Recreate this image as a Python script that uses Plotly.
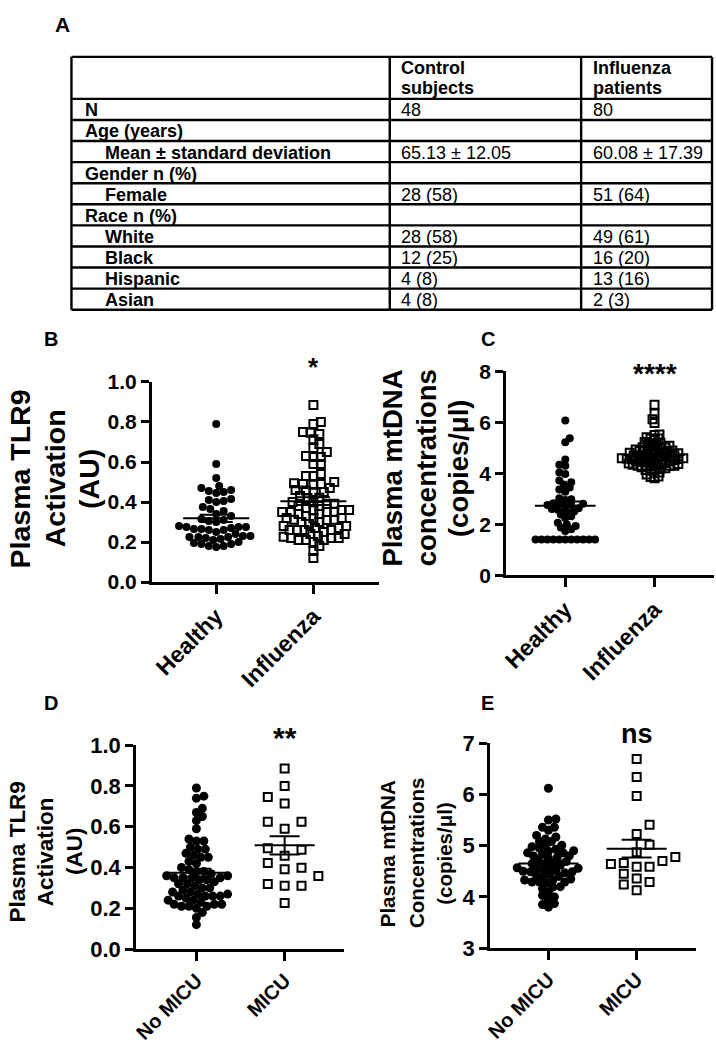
import numpy as np
import plotly.graph_objects as go

W, H = 716, 1050

# ---------------- Panel A table ----------------
table_header = ["", "Control<br>subjects", "Influenza<br>patients"]
row_labels = ["N", "Age (years)", "Mean ± standard deviation", "Gender n (%)", "Female",
              "Race n (%)", "White", "Black", "Hispanic", "Asian"]
row_level = [0, 0, 1, 0, 1, 0, 1, 1, 1, 1]
control_vals = ["48", "", "65.13 ± 12.05", "", "28 (58)", "", "28 (58)", "12 (25)", "4 (8)", "4 (8)"]
influenza_vals = ["80", "", "60.08 ± 17.39", "", "51 (64)", "", "49 (61)", "16 (20)", "13 (16)", "2 (3)"]

# ---------------- Data ----------------
cats_bc = ["Healthy", "Influenza"]
cats_de = ["No MICU", "MICU"]

tlr9_healthy = [0.79, 0.59, 0.52, 0.48, 0.47, 0.46, 0.45, 0.445, 0.455, 0.41, 0.40, 0.415, 0.405,
                0.375, 0.365, 0.34, 0.355, 0.33, 0.31, 0.30, 0.315, 0.305, 0.265, 0.275, 0.275,
                0.275, 0.265, 0.26, 0.225, 0.215, 0.23, 0.225, 0.225, 0.18, 0.195, 0.175, 0.18,
                0.28, 0.26, 0.25, 0.24, 0.23, 0.21, 0.20, 0.19, 0.19, 0.27, 0.22]

tlr9_no_micu = [0.79, 0.75, 0.74, 0.69, 0.67, 0.65, 0.63, 0.59,
                0.53, 0.54, 0.53, 0.49, 0.50, 0.49, 0.45, 0.46, 0.45,
                0.38, 0.40, 0.39, 0.38, 0.35, 0.35, 0.36, 0.35, 0.36, 0.35,
                0.31, 0.32, 0.30, 0.33, 0.32, 0.27, 0.28, 0.27, 0.28,
                0.26, 0.25, 0.24, 0.26, 0.26, 0.24, 0.21, 0.21, 0.22, 0.20, 0.21, 0.22,
                0.18, 0.155, 0.12,
                0.42, 0.43, 0.47, 0.30, 0.34, 0.26, 0.23, 0.22, 0.29, 0.34, 0.37]
tlr9_micu = [0.885, 0.80, 0.746, 0.714, 0.625, 0.625, 0.59, 0.494, 0.487, 0.458,
             0.422, 0.399, 0.391, 0.359, 0.319, 0.311, 0.311, 0.226]
tlr9_influenza = tlr9_no_micu + tlr9_micu

mtdna_healthy = [6.07, 5.37, 5.22, 4.54, 4.29, 4.33, 4.03, 3.97, 3.65, 3.72, 3.56, 3.44, 3.27,
                 3.36, 3.02, 2.95, 2.98, 2.76, 2.82, 2.69, 2.80, 2.76, 2.80, 2.50, 2.57, 2.47,
                 2.63, 2.31, 2.25, 2.38, 2.06, 1.99, 1.80, 1.87, 1.93, 1.74, 2.60,
                 1.40, 1.40, 1.40, 1.40, 1.40, 1.40, 1.40, 1.40, 1.40, 1.40, 1.40]
mtdna_no_micu = [6.12, 5.52, 5.50, 5.36, 5.30, 5.36, 5.17, 5.20, 5.13, 5.00, 5.08, 5.01, 5.08, 4.93,
                 4.80, 4.86, 4.83, 4.80, 4.86, 4.89, 4.64, 4.67, 4.71, 4.62, 4.65, 4.69,
                 4.49, 4.52, 4.56, 4.49, 4.51, 4.29, 4.33, 4.27, 4.33, 4.29, 4.29,
                 4.19, 4.16, 4.20, 4.00, 4.03, 3.85, 3.87, 3.80,
                 4.95, 4.90, 4.76, 4.78, 4.57, 4.47, 4.58, 4.55, 4.45, 4.42, 4.40, 4.38,
                 4.98, 4.35, 4.50, 4.10, 3.95]
mtdna_micu = [6.69, 6.34, 5.97, 5.41, 5.23, 5.02, 4.87, 4.78, 4.66, 4.70, 4.59, 4.59, 4.64,
              4.45, 4.36, 4.29, 4.24, 4.13]
mtdna_influenza = mtdna_no_micu + mtdna_micu

FONT = "Liberation Sans, Arial, sans-serif"


def px(x):
    return x / W


def py(y):
    return 1 - y / H


def swarm_offsets(vals, ppx, ppy, dmin, step):
    """Deterministic beeswarm: offsets (in x data units) computed from values."""
    vals = np.asarray(vals, float)
    order = np.argsort(vals, kind="stable")
    pxs, pys = [], []
    off = np.zeros(len(vals))
    flip = 1
    for i in order:
        y = vals[i] * ppy
        k = 0
        chosen = None
        while chosen is None:
            cands = [0.0] if k == 0 else [flip * k * step, -flip * k * step]
            for c in cands:
                if all((c - a) ** 2 + (y - b) ** 2 >= dmin ** 2 for a, b in zip(pxs, pys)):
                    chosen = c
                    break
            k += 1
        flip = -flip
        off[i] = chosen / ppx
        pxs.append(chosen)
        pys.append(y)
    return off


fig = go.Figure()
annotations = []
shapes = []

panels = [
    dict(n=1, x0=147, x1=376, ytop=379, ybot=584, yr=(0, 1.0), tv=[0, 0.2, 0.4, 0.6, 0.8, 1.0], fmt=".1f",
         xc0=212, xc1=310, cats=cats_bc, groups=[tlr9_healthy, tlr9_influenza],
         swarm=[(7.5, 1.5), (7.0, 1.5)], msize=[8, 8], ytf=21, xtf=23),
    dict(n=2, x0=504, x1=714, ytop=368, ybot=577, yr=(0, 8), tv=[0, 2, 4, 6, 8], fmt="d",
         xc0=564, xc1=654, cats=cats_bc, groups=[mtdna_healthy, mtdna_influenza],
         swarm=[(5.5, 1.5), (4.2, 1.0)], msize=[8, 8], ytf=21, xtf=23),
    dict(n=3, x0=131, x1=341, ytop=751, ybot=960, yr=(0, 1.0), tv=[0, 0.2, 0.4, 0.6, 0.8, 1.0], fmt=".1f",
         xc0=192, xc1=281, cats=cats_de, groups=[tlr9_no_micu, tlr9_micu],
         swarm=[(7.0, 1.5), (14.0, 17.0)], msize=[9, 8], ytf=22, xtf=20),
    dict(n=4, x0=488, x1=696, ytop=749, ybot=959, yr=(3, 7), tv=[3, 4, 5, 6, 7], fmt="d",
         xc0=547, xc1=636, cats=cats_de, groups=[mtdna_no_micu, mtdna_micu],
         swarm=[(6.5, 1.5), (10.0, 13.0)], msize=[9, 8], ytf=22, xtf=20),
]

layout_axes = {}
for p in panels:
    n = p["n"]
    ppx = p["xc1"] - p["xc0"]
    ppy = (p["ybot"] - p["ytop"]) / (p["yr"][1] - p["yr"][0])
    xl = -(p["xc0"] - p["x0"]) / ppx
    xr = 1 + (p["x1"] - p["xc1"]) / ppx
    xa = "x" if n == 1 else f"x{n}"
    ya = "y" if n == 1 else f"y{n}"
    for gi, vals in enumerate(p["groups"]):
        dmin, step = p["swarm"][gi]
        off = swarm_offsets(vals, ppx, ppy, dmin, step)
        xs = gi + off
        if gi == 0:
            mk = dict(symbol="circle", size=p["msize"][0], color="black", line=dict(width=0))
        else:
            mk = dict(symbol="square-open", size=p["msize"][1], color="black",
                      line=dict(width=2, color="black"))
        fig.add_trace(go.Scatter(x=xs, y=vals, mode="markers", marker=mk, xaxis=xa, yaxis=ya,
                                 showlegend=False, cliponaxis=False))
        m = float(np.mean(vals))
        sem = float(np.std(vals, ddof=1) / np.sqrt(len(vals)))
        lx = [gi - 0.34, gi + 0.34, None, gi - 0.17, gi + 0.17, None, gi - 0.17, gi + 0.17, None, gi, gi]
        ly = [m, m, None, m + sem, m + sem, None, m - sem, m - sem, None, m - sem, m + sem]
        fig.add_trace(go.Scatter(x=lx, y=ly, mode="lines", line=dict(color="black", width=2),
                                 xaxis=xa, yaxis=ya, showlegend=False, cliponaxis=False))
    key = "" if n == 1 else str(n)
    layout_axes["xaxis" + key] = dict(
        domain=[px(p["x0"]), px(p["x1"])], range=[xl, xr], anchor=ya,
        tickmode="array", tickvals=[0, 1], ticktext=p["cats"], tickangle=-45,
        showline=True, linecolor="black", linewidth=2.5, mirror=False,
        ticks="outside", ticklen=9, tickwidth=2.5, tickcolor="black",
        showgrid=False, zeroline=False, fixedrange=True,
        tickfont=dict(family=FONT, size=p["xtf"], color="black", weight="bold"))
    layout_axes["yaxis" + key] = dict(
        domain=[py(p["ybot"]), py(p["ytop"])], range=list(p["yr"]), anchor=xa,
        tickmode="array", tickvals=p["tv"], tickformat=p["fmt"],
        showline=True, linecolor="black", linewidth=2.5,
        ticks="outside", ticklen=8, tickwidth=2.5, tickcolor="black",
        showgrid=False, zeroline=False, fixedrange=True,
        tickfont=dict(family=FONT, size=p["ytf"], color="black", weight="bold"))


def ann(text, x, y, size, bold=True, xanchor="center", yanchor="middle", angle=0):
    annotations.append(dict(text=text, x=px(x), y=py(y), xref="paper", yref="paper",
                            showarrow=False, xanchor=xanchor, yanchor=yanchor, textangle=angle,
                            font=dict(family=FONT, size=size, color="black",
                                      weight="bold" if bold else "normal")))


# panel letters
ann("A", 57, 13, 21)
ann("B", 45, 335, 20)
ann("C", 486, 335, 20)
ann("D", 45, 708, 20)
ann("E", 486, 708, 20)

# y titles (one annotation per line)
for t, x in zip(["Plasma TLR9", "Activation", "(AU)"], [14, 49, 83]):
    ann(t, x, 478, 28.5, angle=-90)
for t, x in zip(["Plasma mtDNA", "concentrations", "(copies/μl)"], [390, 424, 457]):
    ann(t, x, 467, 27.5, angle=-90)
for t, x in zip(["Plasma TLR9", "Activation", "(AU)"], [12, 40, 69]):
    ann(t, x, 860, 22.5, angle=-90)
for t, x in zip(["Plasma mtDNA", "Concentrations", "(copies/μl)"], [385, 414, 442]):
    ann(t, x, 862, 20.5, angle=-90)

# significance marks
ann("*", 310, 364, 26)
ann("****", 654, 370, 28)
ann("**", 281, 743, 30)
ann("ns", 636, 740, 27)

# table
tx0, tx1, tx2, tx3 = 66, 387, 580, 712
ttop, thead = 46, 89
rh = 21.6
nrows = len(row_labels)
ys = [ttop, thead] + [thead + rh * (i + 1) for i in range(nrows)]
for yv in ys:
    shapes.append(dict(type="line", xref="paper", yref="paper", x0=px(tx0), x1=px(tx3),
                       y0=py(yv), y1=py(yv), line=dict(color="black", width=2.4)))
for xv in [tx0, tx1, tx2, tx3]:
    shapes.append(dict(type="line", xref="paper", yref="paper", x0=px(xv), x1=px(xv),
                       y0=py(ttop), y1=py(ys[-1]), line=dict(color="black", width=2.4)))
for hx, htxt in zip([78, 396, 590], table_header):
    if htxt:
        l1, l2 = htxt.split("<br>")
        ann(l1, hx, 57, 18, xanchor="left")
        ann(l2, hx, 78, 18, xanchor="left")
for i in range(nrows):
    yc = thead + rh * (i + 0.5) + 1
    ann(row_labels[i], 78 + 20 * row_level[i], yc, 18, xanchor="left")
    if control_vals[i]:
        ann(control_vals[i], 396, yc, 18, bold=False, xanchor="left")
    if influenza_vals[i]:
        ann(influenza_vals[i], 590, yc, 18, bold=False, xanchor="left")

fig.update_layout(width=W, height=H, margin=dict(l=0, r=0, t=0, b=0),
                  paper_bgcolor="white", plot_bgcolor="white",
                  annotations=annotations, shapes=shapes, **layout_axes)

fig.write_html("out.html", config={"displayModeBar": False},
               post_script="document.body.style.margin='0px';")
